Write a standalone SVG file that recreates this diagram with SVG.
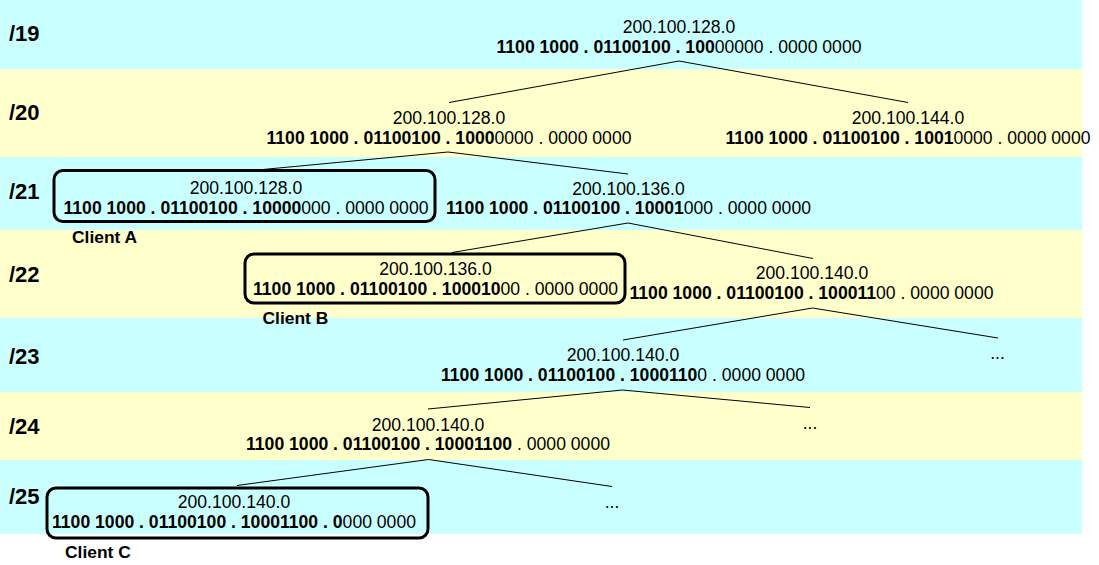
<svg xmlns="http://www.w3.org/2000/svg" width="1099" height="565" viewBox="0 0 1099 565">
<style>
text{font-family:"Liberation Sans",Arial,sans-serif;fill:#000}
.t{font-size:17.6px;text-anchor:middle}
.b{font-weight:bold}
.lvl{font-size:22px;font-weight:bold}
.cl{font-size:17.4px;font-weight:bold}
.cy{fill:#c9ffff}
.ye{fill:#ffffcc}
.box{fill:none;stroke:#000;stroke-width:3}
#connectors line{stroke:#000;stroke-width:1}
</style>
<rect width="1099" height="565" fill="#fff"/>
<g id="bands">
<rect class="cy" x="0" y="0" width="1082" height="69.5"/>
<rect class="ye" x="0" y="69.5" width="1082" height="87.5"/>
<rect class="cy" x="0" y="157" width="1082" height="73"/>
<rect class="ye" x="0" y="230" width="1082" height="88"/>
<rect class="cy" x="0" y="318" width="1082" height="74"/>
<rect class="ye" x="0" y="392" width="1082" height="68"/>
<rect class="cy" x="0" y="460" width="1082" height="74"/>
</g>
<g id="levels">
<text class="lvl" x="9" y="40.5">/19</text>
<text class="lvl" x="9" y="120">/20</text>
<text class="lvl" x="9" y="198.5">/21</text>
<text class="lvl" x="9" y="281.5">/22</text>
<text class="lvl" x="9" y="363.5">/23</text>
<text class="lvl" x="9" y="433.5">/24</text>
<text class="lvl" x="9" y="504">/25</text>
</g>
<g id="connectors">
<line x1="679" y1="61" x2="449" y2="102.5"/>
<line x1="679" y1="61" x2="908" y2="102.5"/>
<line x1="448" y1="152" x2="247" y2="171"/>
<line x1="448" y1="152" x2="628" y2="174"/>
<line x1="628" y1="223" x2="452" y2="252.5"/>
<line x1="628" y1="223" x2="813" y2="258.5"/>
<line x1="812.5" y1="308" x2="623" y2="340"/>
<line x1="812.5" y1="308" x2="998" y2="338"/>
<line x1="622.5" y1="390" x2="428" y2="409"/>
<line x1="622.5" y1="390" x2="810" y2="407.5"/>
<line x1="428.5" y1="459.5" x2="237" y2="485.5"/>
<line x1="428.5" y1="459.5" x2="612" y2="486.5"/>
</g>
<g id="n19">
<text class="t" x="679" y="33">200.100.128.0</text>
<text class="t" x="679" y="52.5"><tspan class="b">1100 1000 . 01100100 . 100</tspan>00000 . 0000 0000</text>
</g>
<g id="n20a">
<text class="t" x="449" y="124">200.100.128.0</text>
<text class="t" x="449" y="143.5"><tspan class="b">1100 1000 . 01100100 . 1000</tspan>0000 . 0000 0000</text>
</g>
<g id="n20b">
<text class="t" x="908" y="124">200.100.144.0</text>
<text class="t" x="908" y="143.5"><tspan class="b">1100 1000 . 01100100 . 1001</tspan>0000 . 0000 0000</text>
</g>
<g id="clientA">
<rect class="box" x="54" y="170.5" width="381" height="51" rx="9"/>
<text class="t" x="246" y="193.5">200.100.128.0</text>
<text class="t" x="246" y="213.5"><tspan class="b">1100 1000 . 01100100 . 10000</tspan>000 . 0000 0000</text>
<text class="cl" x="72" y="243">Client A</text>
</g>
<g id="n21">
<text class="t" x="628.5" y="195">200.100.136.0</text>
<text class="t" x="628.5" y="214"><tspan class="b">1100 1000 . 01100100 . 10001</tspan>000 . 0000 0000</text>
</g>
<g id="clientB">
<rect class="box" x="245" y="254" width="380" height="49" rx="9"/>
<text class="t" x="435.5" y="274.5">200.100.136.0</text>
<text class="t" x="435.5" y="294.5"><tspan class="b">1100 1000 . 01100100 . 100010</tspan>00 . 0000 0000</text>
<text class="cl" x="262.5" y="324">Client B</text>
</g>
<g id="n22">
<text class="t" x="812" y="279">200.100.140.0</text>
<text class="t" x="811.5" y="299"><tspan class="b">1100 1000 . 01100100 . 100011</tspan>00 . 0000 0000</text>
</g>
<g id="n23">
<text class="t" x="623" y="360.5">200.100.140.0</text>
<text class="t" x="623" y="380.5"><tspan class="b">1100 1000 . 01100100 . 1000110</tspan>0 . 0000 0000</text>
</g>
<g id="d23"><text class="t" x="997.5" y="359">...</text></g>
<g id="n24">
<text class="t" x="428" y="430.5">200.100.140.0</text>
<text class="t" x="428" y="450"><tspan class="b">1100 1000 . 01100100 . 10001100</tspan> . 0000 0000</text>
</g>
<g id="d24"><text class="t" x="810" y="429">...</text></g>
<g id="clientC">
<rect class="box" x="47" y="488" width="381" height="50" rx="9"/>
<text class="t" x="234" y="507.5">200.100.140.0</text>
<text class="t" x="234" y="527.5"><tspan class="b">1100 1000 . 01100100 . 10001100 . 0</tspan>000 0000</text>
<text class="cl" x="65" y="558">Client C</text>
</g>
<g id="d25"><text class="t" x="612" y="508">...</text></g>
</svg>
